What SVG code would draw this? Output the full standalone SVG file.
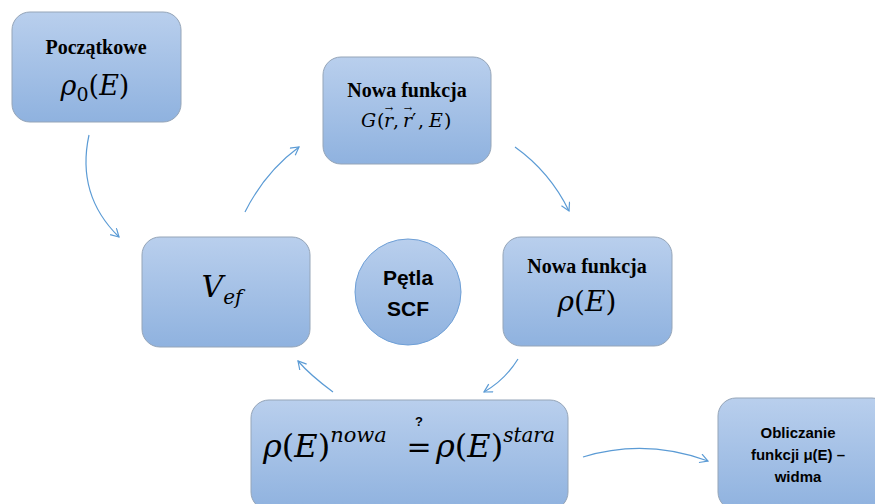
<svg xmlns="http://www.w3.org/2000/svg" width="875" height="504" viewBox="0 0 875 504">
<defs>
<linearGradient id="g" x1="0" y1="0" x2="0" y2="1">
<stop offset="0" stop-color="#b9cfed"/>
<stop offset="1" stop-color="#8fb2df"/>
</linearGradient>
<marker id="arr" markerWidth="12" markerHeight="12" refX="9" refY="5" orient="auto" markerUnits="userSpaceOnUse">
<path d="M1,0.5 L9,5 L1,9.5" fill="none" stroke="#5b9bd5" stroke-width="1.2"/>
</marker>
</defs>
<style>
.box{fill:url(#g);stroke:#95a5b8;stroke-width:1}
.circ{fill:url(#g);stroke:#6e9fd6;stroke-width:1}
.conn{fill:none;stroke:#5b9bd5;stroke-width:1.2;marker-end:url(#arr)}
.tb{font-family:"Liberation Serif",serif;font-weight:bold;font-size:20px;fill:#000;text-anchor:middle}
.m{font-family:"DejaVu Serif",serif;fill:#000}
.i{font-style:italic}
.sb{font-family:"Liberation Sans",sans-serif;font-weight:bold;fill:#000;text-anchor:middle}
</style>
<g id="node-poczatkowe">
<rect class="box" x="12" y="12" width="169" height="110" rx="18"/>
<text class="tb" x="96" y="54">Początkowe</text>
<text class="m" x="95" y="95" font-size="27" text-anchor="middle"><tspan class="i">ρ</tspan><tspan font-size="19" dy="6">0</tspan><tspan dy="-6">(</tspan><tspan class="i">E</tspan>)</text>
</g>
<g id="node-G">
<rect class="box" x="323" y="57" width="168" height="107" rx="18"/>
<text class="tb" x="407" y="97">Nowa funkcja</text>
<text class="m" y="127" font-size="19"><tspan class="i" x="361">G</tspan><tspan x="377">(</tspan><tspan class="i" x="384">r</tspan><tspan x="393">,</tspan><tspan class="i" x="403">r</tspan><tspan x="412">′</tspan><tspan x="418">,</tspan><tspan class="i" x="429">E</tspan><tspan x="444">)</tspan></text>
<text class="m" x="389" y="112" font-size="10" text-anchor="middle">→</text>
<text class="m" x="408" y="112" font-size="10" text-anchor="middle">→</text>
</g>
<g id="node-rho">
<rect class="box" x="503" y="237" width="169" height="109" rx="18"/>
<text class="tb" x="587" y="273">Nowa funkcja</text>
<text class="m" x="587" y="311" font-size="28" text-anchor="middle"><tspan class="i">ρ</tspan>(<tspan class="i">E</tspan>)</text>
</g>
<g id="node-vef">
<rect class="box" x="142" y="237" width="168" height="110" rx="18"/>
<text class="m" x="222" y="297" font-size="30" text-anchor="middle"><tspan class="i">V</tspan><tspan class="i" font-size="20" dy="7">ef</tspan></text>
</g>
<g id="node-petla">
<circle class="circ" cx="408" cy="292" r="53"/>
<text class="sb" x="408" y="285" font-size="21">Pętla</text>
<text class="sb" x="408" y="316" font-size="21">SCF</text>
</g>
<g id="node-porownanie">
<rect class="box" x="251" y="400" width="317" height="110" rx="18"/>
<text class="m" x="263" y="457" font-size="32"><tspan class="i">ρ</tspan>(<tspan class="i">E</tspan>)<tspan class="i" font-size="21" dy="-15">nowa</tspan></text>
<text class="m" x="419" y="457" font-size="30" text-anchor="middle">=</text>
<text class="sb" x="419" y="426" font-size="13">?</text>
<text class="m" x="436" y="457" font-size="32"><tspan class="i">ρ</tspan>(<tspan class="i">E</tspan>)<tspan class="i" font-size="20" dy="-15">stara</tspan></text>
</g>
<g id="node-obliczanie">
<rect class="box" x="718" y="398" width="172" height="112" rx="18"/>
<text class="sb" x="798" y="438" font-size="15">Obliczanie</text>
<text class="sb" x="798" y="460" font-size="15">funkcji μ(E) –</text>
<text class="sb" x="798" y="482" font-size="15">widma</text>
</g>
<g id="connectors">
<path class="conn" d="M89,135 Q76,195 119,237"/>
<path class="conn" d="M245,212 Q265,172 299,147"/>
<path class="conn" d="M515,147 Q550,172 569,211"/>
<path class="conn" d="M518,359 Q505,380 484,392"/>
<path class="conn" d="M333,392 Q310,375 298,361"/>
<path class="conn" d="M583,457 Q645,438 708,461"/>
</g>
</svg>
